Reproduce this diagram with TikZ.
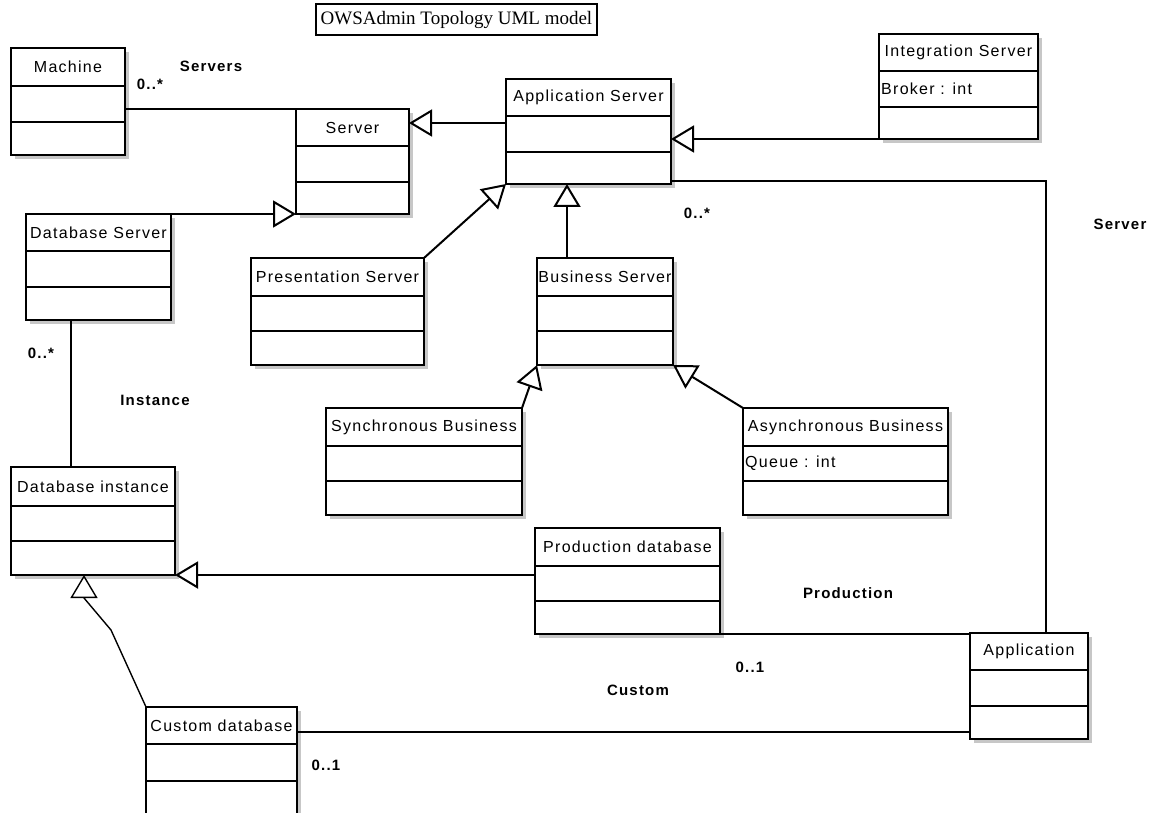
\documentclass[tikz,border=0pt]{standalone}
\usepackage{fontspec}
\newfontfamily\umlfont[LetterSpace=8]{Liberation Sans}
\newfontfamily\lblfont[LetterSpace=8]{Liberation Sans}
\newfontfamily\titlefont{Liberation Serif}
\usetikzlibrary{arrows.meta}
\tikzset{
  classbox/.style={draw, fill=white, line width=2pt, inner sep=0pt, outer sep=0pt},
  divline/.style={line width=1.6pt},
  shadowc/.style={fill=black!22},
  hdr/.style={font=\umlfont\fontsize{16}{19}\selectfont, inner sep=0pt},
  attr/.style={font=\umlfont\fontsize{16}{19}\selectfont, inner sep=0pt, anchor=west},
  lbl/.style={font=\lblfont\bfseries\fontsize{15}{18}\selectfont, inner sep=0pt},
  assoc/.style={line width=2pt},
  gen/.style={line width=2pt, line join=miter, -{Triangle[open, length=23pt, width=27pt]}},
  titlebox/.style={draw, line width=1.2pt, inner sep=0pt, font=\titlefont\fontsize{19}{22}\selectfont},
}
% #1 name, #2 x1, #3 y1, #4 x2, #5 y2, #6 first divider, #7 second divider, #8 header
\newcommand\umlclass[8]{%
  \fill[shadowc] ({#2+4},{#3+4}) rectangle ({#4+4},{#5+4});
  \node[classbox, minimum width={(#4-#2)*1pt}, minimum height={(#5-#3)*1pt}, anchor=north west] (#1) at (#2,#3) {};
  \draw[divline] ({#2},{#6}) -- ({#4},{#6});
  \draw[divline] ({#2},{#7}) -- ({#4},{#7});
  \node[hdr] (#1-title) at ({(#2+#4)/2},{(#3+#6)/2}) {#8};
}
\begin{document}
\begin{tikzpicture}[x=1pt, y=-1pt]
\useasboundingbox[fill=white] (0,0) rectangle (1156,813);

\node[titlebox, minimum width=281pt, minimum height=31pt] (title) at (456.5,19.5) {OWSAdmin Topology UML model};

\umlclass{machine}{11}{48}{125}{155}{86}{122}{Machine}
\umlclass{server}{296}{109}{409}{214}{146}{182}{Server}
\umlclass{appserver}{506}{79}{671}{184}{116}{152}{Application Server}
\umlclass{integ}{879}{34}{1038}{139}{71}{107}{Integration Server}
\umlclass{dbserver}{26}{214}{171}{320}{251}{287}{Database Server}
\umlclass{pres}{251}{258}{424}{365}{296}{331}{Presentation Server}
\umlclass{business}{537}{258}{673}{365}{296}{331}{Business Server}
\umlclass{sync}{326}{408}{522}{515}{446}{481}{Synchronous Business}
\umlclass{async}{743}{408}{948}{515}{446}{481}{Asynchronous Business}
\umlclass{dbinst}{11}{467}{175}{575}{506}{541}{Database instance}
\umlclass{proddb}{535}{528}{720}{634}{566}{601}{Production database}
\umlclass{application}{970}{633}{1088}{739}{670}{706}{Application}
\umlclass{customdb}{146}{707}{297}{840}{744}{781}{Custom database}

\node[attr] (integ-attr) at (881,89) {Broker : int};
\node[attr] (async-attr) at (745,463.5) {Queue : int};

% connectors
\draw[assoc] (machine.east |- server.north west) -- (server.north west);
\coordinate (asL) at ([yshift=8.5pt]appserver.west);
\draw[gen] (asL) -- (asL -| server.east);
\draw[gen] (integ.south west) -- (integ.south west -| appserver.east);
\draw[gen] (dbserver.north east) -- (dbserver.north east -| server.west);
\draw[gen] (pres.north east) -- (appserver.south west);
\coordinate (bsT) at ([xshift=-38pt]business.north);
\draw[gen] (bsT) -- (bsT |- appserver.south);
\draw[gen] (sync.north east) -- (business.south west);
\draw[gen] (async.north west) -- (business.south east);
\coordinate (dsB) at ([xshift=-27.5pt]dbserver.south);
\draw[assoc] (dsB) -- (dsB |- dbinst.north);
\coordinate (asR) at ([yshift=3pt]appserver.south east);
\coordinate (apT) at ([xshift=17pt]application.north);
\draw[assoc] (asR) -| (apT);
\coordinate (pdL) at ([yshift=6pt]proddb.west);
\draw[gen] (pdL) -- (pdL -| dbinst.east);
\coordinate (cdBend) at ([xshift=18pt,yshift=-55pt]dbinst.south);
\coordinate (cdBase) at ([xshift=-9pt,yshift=-23pt]dbinst.south);
\coordinate (cdTip) at ([xshift=-9pt]dbinst.south);
\draw[gen, line width=1.4pt] (customdb.north west) -- (cdBend) -- (cdBase) -- (cdTip);
\draw[assoc] (proddb.south east) -- (proddb.south east -| application.west);
\coordinate (apL) at ([yshift=7pt]application.south west);
\draw[assoc] (apL) -- (apL -| customdb.east);

% labels
\node[lbl] (l-servers-m) at (150,84) {0..*};
\node[lbl] (l-servers) at (211,66) {Servers};
\node[lbl] (l-app-m) at (697,213) {0..*};
\node[lbl] (l-server) at (1120,224) {Server};
\node[lbl] (l-inst-m) at (41,353) {0..*};
\node[lbl] (l-inst) at (155,400) {Instance};
\node[lbl] (l-prod) at (848,593) {Production};
\node[lbl] (l-prod-m) at (750,667) {0..1};
\node[lbl] (l-custom) at (638,690) {Custom};
\node[lbl] (l-custom-m) at (326,765) {0..1};
\end{tikzpicture}
\end{document}
